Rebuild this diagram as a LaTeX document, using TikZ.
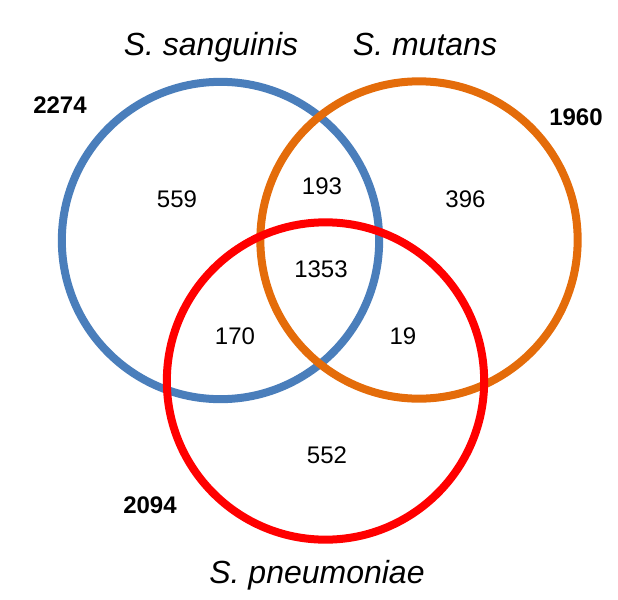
\documentclass[tikz,border=0pt]{standalone}
\usepackage{fontspec}
\setmainfont{Liberation Sans}
\usepackage{xcolor}
\usepackage{tikz}
\definecolor{sangblue}{HTML}{4A7EBB}
\definecolor{mutorange}{HTML}{E46C0A}
\definecolor{pneured}{HTML}{FF0000}
\tikzset{
  ring/.style    = {circle, draw=#1, line width=6pt, inner sep=0pt, minimum size=238pt},
  species/.style = {font=\fontsize{24}{28}\selectfont\itshape, anchor=base, inner sep=0pt},
  count/.style   = {font=\fontsize{18}{21}\selectfont, anchor=base, inner sep=0pt},
  total/.style   = {font=\fontsize{18}{21}\selectfont\bfseries, anchor=base, inner sep=0pt},
}

\begin{document}
\begin{tikzpicture}[x=0.75pt,y=-0.75pt]
  \useasboundingbox (0,0) rectangle (618,600);
  % the three sets
  \node[ring=sangblue]  (sang) at (220.5,240.5) {};
  \node[ring=mutorange] (mut)  at (419,240) {};
  \node[ring=pneured]   (pneu) at (325.5,381) {};
  % set names
  \node[species] (sangname) at (211,55)  {S. sanguinis};
  \node[species] (mutname)  at (425,55)  {S. mutans};
  \node[species] (pneuname) at (317,583) {S. pneumoniae};
  % totals
  \node[total] (sangtot) at (60,113)  {2274};
  \node[total] (muttot)  at (576,125) {1960};
  \node[total] (pneutot) at (150,513) {2094};
  % regions
  \node[count] (onlysang) at (177,207)   {559};
  \node[count] (sangmut)  at (322,194)   {193};
  \node[count] (onlymut)  at (465.5,207) {396};
  \node[count] (allthree) at (321,277)   {1353};
  \node[count] (sangpneu) at (235,344)   {170};
  \node[count] (mutpneu)  at (403,344)   {19};
  \node[count] (onlypneu) at (327,463)   {552};
\end{tikzpicture}
\end{document}
